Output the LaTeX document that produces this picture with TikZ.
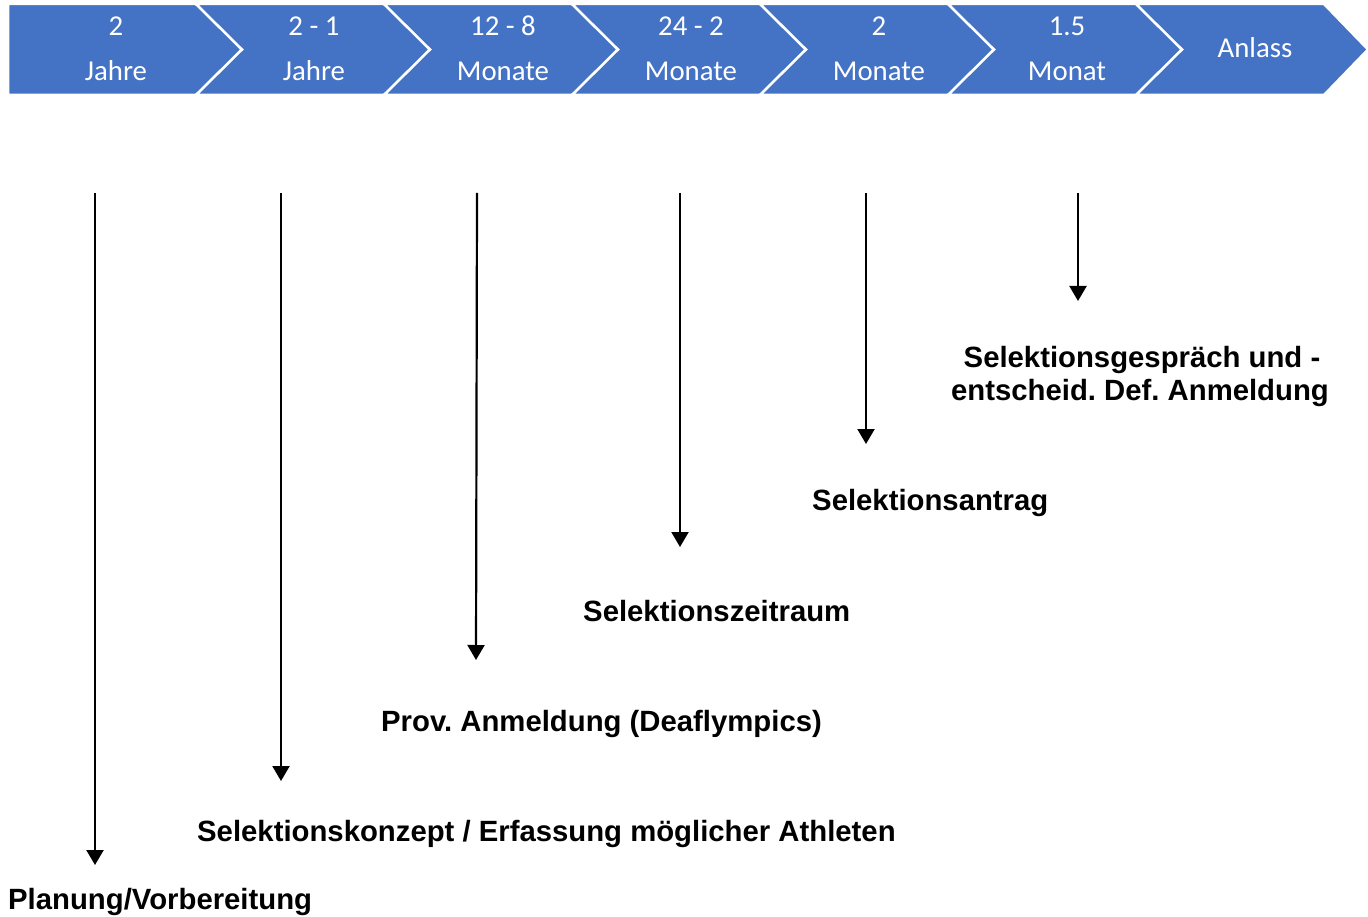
\documentclass[tikz,border=0pt]{standalone}
\usepackage{fontspec}
\setmainfont{Liberation Sans}
\newfontfamily\hdrfont{Carlito}
\usetikzlibrary{arrows.meta}
\definecolor{chev}{HTML}{4472C4}
\frenchspacing
\begin{document}
\begin{tikzpicture}[x=1pt,y=-1pt,
  chevbox/.style={fill=chev,draw=white,line width=2.5pt,line join=miter},
  hdrtext/.style={text=white,font=\hdrfont\fontsize{28.8}{34}\selectfont,inner sep=0pt,anchor=base},
  lbl/.style={font=\bfseries\fontsize{29.3}{33}\selectfont,inner sep=0pt,anchor=base west},
  lblc/.style={font=\bfseries\fontsize{29.3}{33}\selectfont,inner sep=0pt,anchor=base},
  arr/.style={line width=2.2pt,-{Triangle[width=17pt,length=15pt]}}]
\useasboundingbox (0,0) rectangle (1368,917);
\fill[white] (0,0) rectangle (1368,917);

% chevrons
\draw[chevbox] (8,4) -- (196,4) -- (242,49.5) -- (196,95) -- (8,95) -- cycle;
\draw[chevbox] (196,4) -- (384,4) -- (430,49.5) -- (384,95) -- (196,95) -- (242,49.5) -- cycle;
\draw[chevbox] (384,4) -- (572,4) -- (618,49.5) -- (572,95) -- (384,95) -- (430,49.5) -- cycle;
\draw[chevbox] (572,4) -- (760,4) -- (806,49.5) -- (760,95) -- (572,95) -- (618,49.5) -- cycle;
\draw[chevbox] (760,4) -- (948,4) -- (994,49.5) -- (948,95) -- (760,95) -- (806,49.5) -- cycle;
\draw[chevbox] (948,4) -- (1136,4) -- (1182,49.5) -- (1136,95) -- (948,95) -- (994,49.5) -- cycle;
\draw[chevbox] (1136,4) -- (1324,4) -- (1368,49.5) -- (1324,95) -- (1136,95) -- (1182,49.5) -- cycle;

% header texts
\node[hdrtext] (h1a) at (116,36) {2};
\node[hdrtext] (h1b) at (116,81) {Jahre};
\node[hdrtext] (h2a) at (314,36) {2 - 1};
\node[hdrtext] (h2b) at (314,81) {Jahre};
\node[hdrtext] (h3a) at (503,36) {12 - 8};
\node[hdrtext] (h3b) at (503,81) {Monate};
\node[hdrtext] (h4a) at (691,36) {24 - 2};
\node[hdrtext] (h4b) at (691,81) {Monate};
\node[hdrtext] (h5a) at (879,36) {2};
\node[hdrtext] (h5b) at (879,81) {Monate};
\node[hdrtext] (h6a) at (1067,36) {1.5};
\node[hdrtext] (h6b) at (1067,81) {Monat};
\node[hdrtext] (h7) at (1255,58) {Anlass};

% arrow end points
\coordinate (s1) at (95,193);   \coordinate (e1) at (95,865);
\coordinate (s2) at (281,193);  \coordinate (e2) at (281,781);
\coordinate (s3) at (477,193);  \coordinate (e3) at (476,660);
\coordinate (s4) at (680,193);  \coordinate (e4) at (680,547);
\coordinate (s5) at (866,193);  \coordinate (e5) at (866,444);
\coordinate (s6) at (1078,193); \coordinate (e6) at (1078,301);

\draw[arr] (s1) -- (e1);
\draw[arr] (s2) -- (e2);
\draw[arr] (s3) -- (e3);
\draw[arr] (s4) -- (e4);
\draw[arr] (s5) -- (e5);
\draw[arr] (s6) -- (e6);

% labels
\node[lbl] (l1) at (8,909) {Planung/Vorbereitung};
\node[lbl] (l2) at (197,841) {Selektionskonzept / Erfassung möglicher Athleten};
\node[lbl] (l3) at (381,731) {Prov. Anmeldung (Deaflympics)};
\node[lbl] (l4) at (583,621) {Selektionszeitraum};
\node[lbl] (l5) at (812,510) {Selektionsantrag};
\node[lblc] (l6a) at (1142,367) {Selektionsgespräch und -};
\node[lblc] (l6b) at (1140,400) {entscheid. Def. Anmeldung};
\end{tikzpicture}
\end{document}
